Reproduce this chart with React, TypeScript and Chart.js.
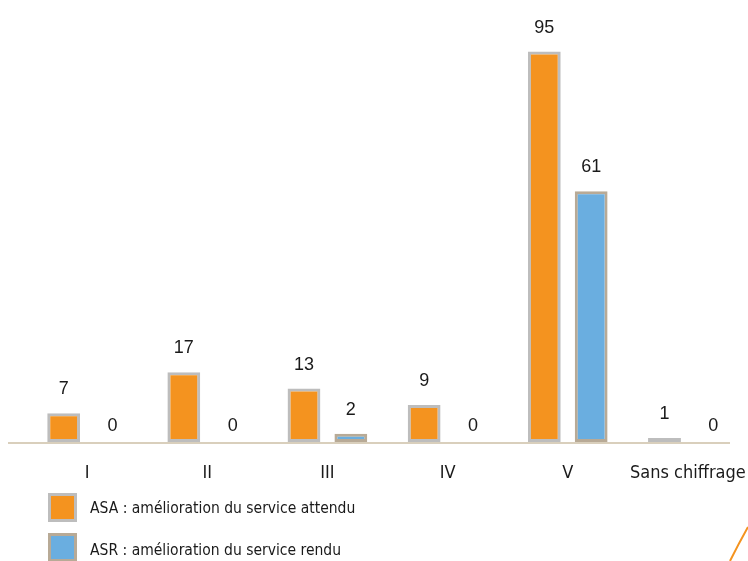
import React, { useEffect, useRef } from "react";
import { Chart, registerables } from "chart.js";

Chart.register(...registerables);

const categories = ["I", "II", "III", "IV", "V", "Sans chiffrage"];
const asaValues = [7, 17, 13, 9, 95, 1];
const asrValues = [0, 0, 2, 0, 61, 0];
const seriesLabels = [
  "ASA : amélioration du service attendu",
  "ASR : amélioration du service rendu",
];

const ORANGE = "#f4931f";
const BLUE = "#6aaee0";
const ORANGE_BORDER = "#bdbdbd";
const BLUE_BORDER = "#b8aa96";
const TEXT = "#1a1a1a";
const NARROW = "'Liberation Sans Narrow', 'DejaVu Sans Condensed', 'Liberation Sans', sans-serif";
const PLAIN = "'Liberation Sans', Arial, sans-serif";

// Writes each bar's value above it.
const valueLabels = {
  id: "valueLabels",
  afterDatasetsDraw(chart: any) {
    const ctx = chart.ctx;
    ctx.save();
    ctx.font = `18px ${PLAIN}`;
    ctx.fillStyle = TEXT;
    ctx.textAlign = "center";
    ctx.textBaseline = "bottom";
    chart.data.datasets.forEach((ds: any, i: number) => {
      const meta = chart.getDatasetMeta(i);
      meta.data.forEach((bar: any, j: number) => {
        const v = ds.data[j];
        if (v === 0) ctx.fillText("0", bar.x + 2, bar.y - 7);
        else ctx.fillText(String(v), bar.x, bar.y - 15);
      });
    });
    ctx.restore();
  },
};

// Baseline rule, legend block and the corner accent stroke.
const decorations = {
  id: "decorations",
  beforeDatasetsDraw(chart: any) {
    const ctx = chart.ctx;
    const y = chart.scales.y.getPixelForValue(0) + 1;
    ctx.save();
    ctx.strokeStyle = "#cdbfa6";
    ctx.lineWidth = 1.5;
    ctx.beginPath();
    ctx.moveTo(chart.chartArea.left - 19, y);
    ctx.lineTo(chart.chartArea.right - 18, y);
    ctx.stroke();
    ctx.restore();
  },
  afterDraw(chart: any) {
    const ctx = chart.ctx;
    ctx.save();
    const left = chart.chartArea.left + 21;
    const top0 = chart.chartArea.bottom + 51;
    chart.data.datasets.forEach((ds: any, i: number) => {
      const top = top0 + i * 40;
      ctx.fillStyle = ds.borderColor;
      ctx.fillRect(left, top, 29, 29);
      ctx.fillStyle = ds.backgroundColor;
      ctx.fillRect(left + 3, top + 3, 23, 23);
      ctx.fillStyle = TEXT;
      ctx.font = `15.5px ${NARROW}`;
      ctx.textAlign = "left";
      ctx.textBaseline = "middle";
      ctx.fillText(ds.label, left + 42, top + 16 + i * 2);
    });
    // accent stroke in the lower-right corner
    ctx.strokeStyle = ORANGE;
    ctx.lineWidth = 2;
    ctx.beginPath();
    ctx.moveTo(chart.width - 18, chart.height);
    ctx.quadraticCurveTo(chart.width - 9, chart.height - 18, chart.width, chart.height - 34);
    ctx.stroke();
    ctx.restore();
  },
};

export default function App() {
  const canvasRef = useRef<HTMLCanvasElement | null>(null);

  useEffect(() => {
    document.body.style.margin = "0";
    const canvas = canvasRef.current;
    if (!canvas) return;
    const chart = new Chart(canvas, {
      type: "bar",
      data: {
        labels: categories,
        datasets: [
          {
            label: seriesLabels[0],
            data: asaValues,
            backgroundColor: ORANGE,
            borderColor: ORANGE_BORDER,
            borderWidth: 3,
            borderSkipped: false,
          },
          {
            label: seriesLabels[1],
            data: asrValues,
            backgroundColor: BLUE,
            borderColor: BLUE_BORDER,
            borderWidth: 3,
            borderSkipped: false,
          },
        ],
      },
      options: {
        responsive: false,
        animation: false,
        layout: { padding: { top: 31, left: 27, right: 0, bottom: 78 } },
        datasets: {
          bar: { categoryPercentage: 0.78, barPercentage: 0.7 },
        },
        plugins: {
          legend: { display: false },
          tooltip: { enabled: false },
        },
        scales: {
          x: {
            grid: { display: false, drawTicks: false },
            border: { display: false },
            ticks: {
              padding: 21,
              autoSkip: false,
              maxRotation: 0,
              color: TEXT,
              font: { family: NARROW, size: 18 },
            },
            afterFit(scale: any) {
              scale.height = 41;
              scale.paddingLeft = 0;
              scale.paddingRight = 0;
            },
          },
          y: {
            display: false,
            min: 0,
            max: 100,
          },
        },
      },
      plugins: [valueLabels, decorations],
    });
    return () => chart.destroy();
  }, []);

  return (
    <div style={{ position: "relative", width: 748, height: 561, background: "#fff" }}>
      <canvas ref={canvasRef} width={748} height={561} style={{ display: "block" }} />
    </div>
  );
}
